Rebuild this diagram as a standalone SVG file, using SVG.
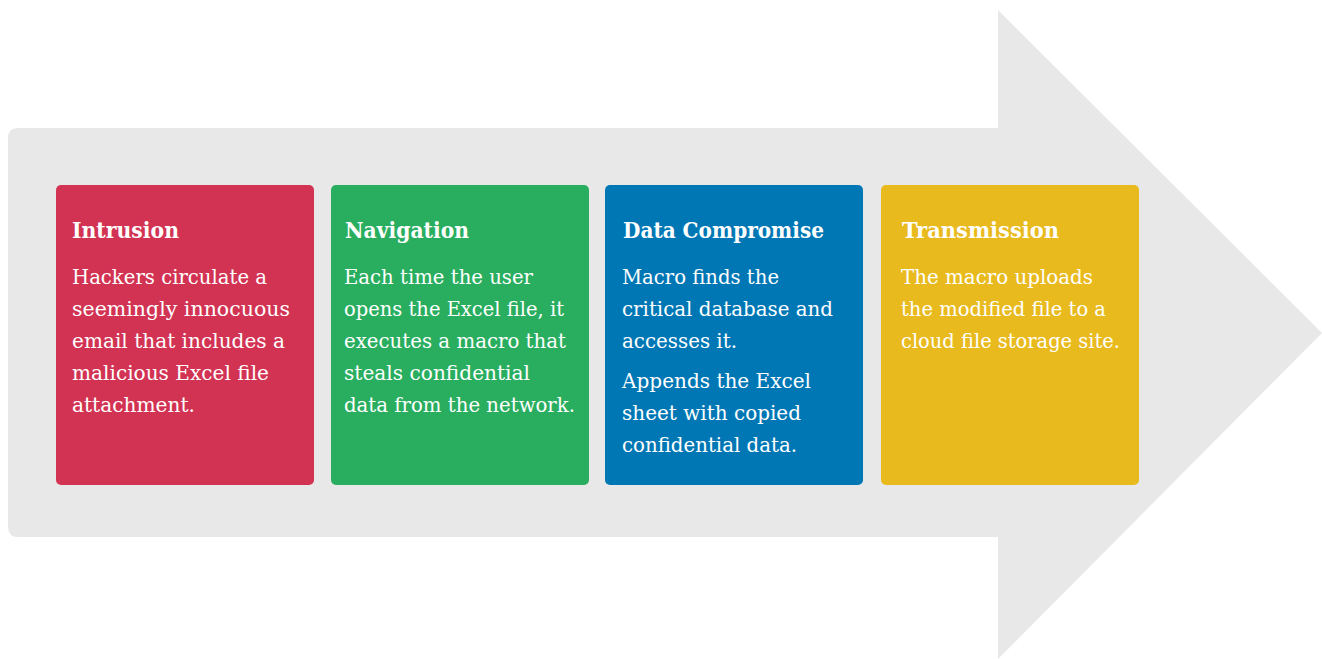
<svg xmlns="http://www.w3.org/2000/svg" width="1322" height="659" viewBox="0 0 1322 659">
<style>
.bg{fill:#E8E8E8}
.card{stroke:none}
.t{font-family:"DejaVu Serif","Liberation Serif",serif;font-weight:bold;font-size:21.5px;fill:#FFFFFF}
.b{font-family:"DejaVu Serif","Liberation Serif",serif;font-size:19.5px;fill:#FFFFFF}
</style>
<rect width="1322" height="659" fill="#FFFFFF"/>
<g id="arrow">
<path class="bg" d="M18,128 H998 V10 L1322,333 L998,659 V537 H18 Q8,537 8,527 V138 Q8,128 18,128 Z"/>
</g>
<g id="intrusion">
<rect class="card" x="56" y="185" width="258" height="300" rx="5" fill="#D23353"/>
<text class="t" x="72" y="238" textLength="107" lengthAdjust="spacingAndGlyphs">Intrusion</text>
<text class="b" x="72" y="283.5" textLength="195" lengthAdjust="spacingAndGlyphs">Hackers circulate a</text>
<text class="b" x="72" y="315.5" textLength="218" lengthAdjust="spacingAndGlyphs">seemingly innocuous</text>
<text class="b" x="72" y="347.5" textLength="213" lengthAdjust="spacingAndGlyphs">email that includes a</text>
<text class="b" x="72" y="379.5" textLength="197" lengthAdjust="spacingAndGlyphs">malicious Excel file</text>
<text class="b" x="72" y="411.5" textLength="123" lengthAdjust="spacingAndGlyphs">attachment.</text>
</g>
<g id="navigation">
<rect class="card" x="331" y="185" width="258" height="300" rx="5" fill="#29AE5F"/>
<text class="t" x="345" y="238" textLength="124" lengthAdjust="spacingAndGlyphs">Navigation</text>
<text class="b" x="344" y="283.5" textLength="189" lengthAdjust="spacingAndGlyphs">Each time the user</text>
<text class="b" x="344" y="315.5" textLength="220" lengthAdjust="spacingAndGlyphs">opens the Excel file, it</text>
<text class="b" x="344" y="347.5" textLength="222" lengthAdjust="spacingAndGlyphs">executes a macro that</text>
<text class="b" x="344" y="379.5" textLength="186" lengthAdjust="spacingAndGlyphs">steals confidential</text>
<text class="b" x="344" y="411.5" textLength="231" lengthAdjust="spacingAndGlyphs">data from the network.</text>
</g>
<g id="data-compromise">
<rect class="card" x="605" y="185" width="258" height="300" rx="5" fill="#0077B5"/>
<text class="t" x="623" y="238" textLength="201" lengthAdjust="spacingAndGlyphs">Data Compromise</text>
<text class="b" x="622" y="283.5" textLength="157" lengthAdjust="spacingAndGlyphs">Macro finds the</text>
<text class="b" x="622" y="315.5" textLength="211" lengthAdjust="spacingAndGlyphs">critical database and</text>
<text class="b" x="622" y="347.5" textLength="115" lengthAdjust="spacingAndGlyphs">accesses it.</text>
<text class="b" x="622" y="387.5" textLength="189" lengthAdjust="spacingAndGlyphs">Appends the Excel</text>
<text class="b" x="622" y="419.5" textLength="179" lengthAdjust="spacingAndGlyphs">sheet with copied</text>
<text class="b" x="622" y="451.5" textLength="175" lengthAdjust="spacingAndGlyphs">confidential data.</text>
</g>
<g id="transmission">
<rect class="card" x="881" y="185" width="258" height="300" rx="5" fill="#E9BA1D"/>
<text class="t" x="902" y="238" textLength="157" lengthAdjust="spacingAndGlyphs">Transmission</text>
<text class="b" x="901" y="283.5" textLength="192" lengthAdjust="spacingAndGlyphs">The macro uploads</text>
<text class="b" x="901" y="315.5" textLength="205" lengthAdjust="spacingAndGlyphs">the modified file to a</text>
<text class="b" x="901" y="347.5" textLength="219" lengthAdjust="spacingAndGlyphs">cloud file storage site.</text>
</g>
<g id="connectors"></g>
</svg>
